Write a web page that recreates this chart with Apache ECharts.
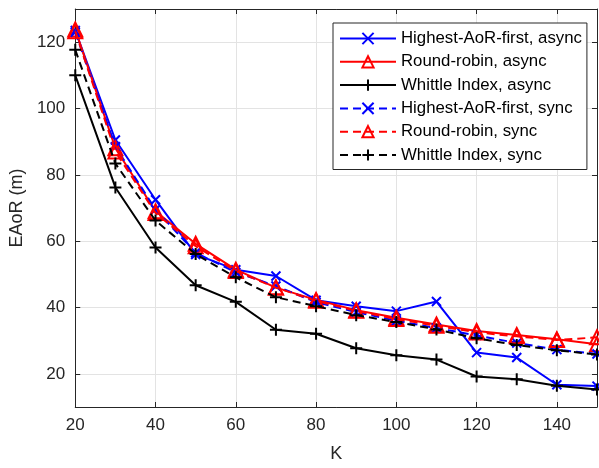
<!DOCTYPE html>
<html>
<head>
<meta charset="utf-8">
<script src="https://cdn.jsdelivr.net/npm/echarts@6/dist/echarts.min.js"></script>
<style>html,body{margin:0;padding:0;background:#fff}#c{width:599px;height:468px}</style>
</head>
<body>
<div id="c"></div>
<script>
const K = [20, 30, 40, 50, 60, 70, 80, 90, 100, 110, 120, 130, 140, 150];
const hafAsync = [123.5, 90.5, 72.5, 56, 51.4, 49.5, 42.2, 40.4, 38.9, 41.8, 26.4, 24.9, 16.7, 16.3];
const rrAsync  = [123.8, 88, 69, 59.2, 51.4, 46, 42.3, 39.2, 36.9, 34.9, 32.9, 31.7, 30.4, 28.9];
const wiAsync  = [110, 76.2, 58.1, 46.7, 41.7, 33.3, 32.1, 27.7, 25.6, 24.3, 19.2, 18.4, 16.4, 15.3];
const hafSync  = [123, 88.5, 69.5, 56.5, 50.6, 46.5, 41.6, 38.6, 36, 33.8, 31.6, 29.3, 27.3, 26];
const rrSync   = [123.3, 87, 68.5, 58.5, 51, 46, 42, 39, 36.5, 34.5, 32.5, 31.3, 30.2, 31];
const wiSync   = [117.7, 83.4, 66.2, 56.1, 49.1, 43.1, 40.4, 37.7, 35.6, 33.4, 30.7, 28.7, 27.1, 25.8];
const seriesNames = ['Highest-AoR-first, async', 'Round-robin, async', 'Whittle Index, async',
                     'Highest-AoR-first, sync', 'Round-robin, sync', 'Whittle Index, sync'];

const X_SYM = 'path://M0,0L10,10M10,0L0,10';
const P_SYM = 'path://M5,0L5,10M0,5L10,5';
const FONT = 'Liberation Sans, Arial, Helvetica, sans-serif';
const AX = '#262626';

function mk(name, vals, color, sym, size, dashed, z) {
  return {
    name: name,
    type: 'line',
    data: K.map((k, i) => [k, vals[i]]),
    symbol: sym,
    symbolSize: size,
    showSymbol: true,
    animation: false,
    z: z,
    color: color,
    lineStyle: { color: color, width: 2, type: dashed ? [8, 5] : 'solid' },
    itemStyle: { color: 'rgba(0,0,0,0)', borderColor: color, borderWidth: 2 },
    emphasis: { disabled: true }
  };
}

const chart = echarts.init(document.getElementById('c'), null, { renderer: 'canvas' });
const axBase = {
  axisLine: { show: true, lineStyle: { color: AX, width: 1 } },
  axisTick: { show: true, inside: true, length: 5, lineStyle: { color: AX } },
};
chart.setOption({
  animation: false,
  backgroundColor: '#fff',
  textStyle: { fontFamily: FONT },
  grid: { left: 74, right: 2, top: 9, bottom: 58, containLabel: false },
  legend: {
    data: seriesNames,
    orient: 'vertical',
    left: 333,
    top: 23,
    backgroundColor: '#fff',
    borderColor: AX,
    borderWidth: 1,
    borderRadius: 0,
    padding: [7, 5, 6, 6],
    itemWidth: 56,
    itemHeight: 14,
    itemGap: 6.3,
    textStyle: { fontFamily: FONT, fontSize: 16.8, color: '#000', lineHeight: 17 },
    selectedMode: false
  },
  xAxis: [
    Object.assign({}, axBase, {
      type: 'value', min: 20, max: 150, interval: 20,
      name: 'K', nameLocation: 'middle', nameGap: 38,
      nameTextStyle: { fontFamily: FONT, fontSize: 18, color: AX },
      axisLabel: { fontFamily: FONT, fontSize: 17, color: AX, margin: 10, showMaxLabel: false },
      splitLine: { show: true, lineStyle: { color: '#e3e3e3', width: 1 } }
    }),
    Object.assign({}, axBase, {
      type: 'value', min: 20, max: 150, interval: 20, position: 'top',
      axisLabel: { show: false }, splitLine: { show: false }
    })
  ],
  yAxis: [
    Object.assign({}, axBase, {
      type: 'value', min: 10, max: 130, splitNumber: 6,
      name: 'EAoR (m)', nameLocation: 'middle', nameGap: 44,
      nameTextStyle: { fontFamily: FONT, fontSize: 18, color: AX },
      axisLabel: { fontFamily: FONT, fontSize: 17, color: AX, margin: 10, showMinLabel: false, showMaxLabel: false },
      splitLine: { show: true, lineStyle: { color: '#e3e3e3', width: 1 } }
    }),
    Object.assign({}, axBase, {
      type: 'value', min: 10, max: 130, splitNumber: 6, position: 'right',
      axisLabel: { show: false }, splitLine: { show: false }
    })
  ],
  series: [
    mk(seriesNames[0], hafAsync, '#0000ff', X_SYM, 9, false, 1),
    mk(seriesNames[1], rrAsync, '#ff0000', 'triangle', 14, false, 2),
    mk(seriesNames[2], wiAsync, '#000000', P_SYM, 12, false, 3),
    mk(seriesNames[3], hafSync, '#0000ff', X_SYM, 9, true, 4),
    mk(seriesNames[4], rrSync, '#ff0000', 'triangle', 14, true, 5),
    mk(seriesNames[5], wiSync, '#000000', P_SYM, 12, true, 6)
  ]
});
</script>
</body>
</html>
